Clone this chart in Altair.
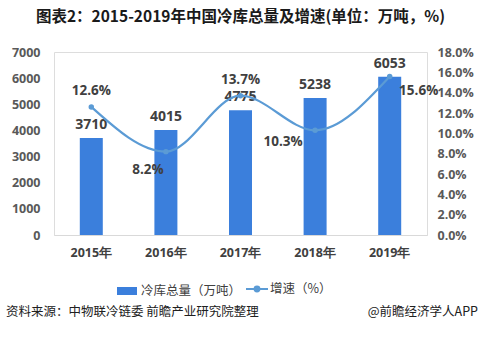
import altair as alt
import pandas as pd

years = ["2015年", "2016年", "2017年", "2018年", "2019年"]
volume = [3710, 4015, 4775, 5238, 6053]
growth = [0.126, 0.082, 0.137, 0.103, 0.156]
growth_labels = ["12.6%", "8.2%", "13.7%", "10.3%", "15.6%"]
label_dx = [0, -18, 0, -32, 29]
label_dy = [-16, 18, -16, 12, 15]

df = pd.DataFrame({"year": years, "volume": volume, "growth": growth,
                   "glabel": growth_labels,
                   "bar_name": "冷库总量（万吨）", "line_name": "增速（%）"})

CJK = "Noto Sans CJK SC"
NUM = "Open Sans"
BAR = "#3b7fdc"
LINE = "#5b9bd5"

x = alt.X("year:N", sort=years, title=None,
          scale=alt.Scale(paddingInner=0, paddingOuter=0),
          axis=alt.Axis(labelAngle=0, labelFont=NUM, labelFontSize=12.5,
                        labelFontWeight="bold", labelColor="#404040",
                        domainColor="#d9d9d9", ticks=False, labelPadding=11))

yl = alt.Y("volume:Q", title=None,
           scale=alt.Scale(domain=[0, 7000]),
           axis=alt.Axis(values=list(range(0, 7001, 1000)), format="d", grid=False,
                         domain=False, ticks=False, labelPadding=14,
                         labelFont=NUM, labelFontSize=12.5, labelFontWeight="bold",
                         labelColor="#595959"))

yr = alt.Y("growth:Q", title=None, scale=alt.Scale(domain=[0, 0.18]),
           axis=alt.Axis(orient="right", values=[i / 100 for i in range(0, 19, 2)],
                         format=".1%", grid=False, domain=False, ticks=False,
                         labelPadding=10, labelFont=NUM, labelFontSize=12.5,
                         labelFontWeight="bold", labelColor="#595959"))

base_l = alt.Chart(df).encode(x=x, y=yl)
base_r = alt.Chart(df).encode(x=x, y=yr)

bars = base_l.mark_bar(width=23, fill=BAR, strokeWidth=0).encode(
    stroke=alt.Stroke("bar_name:N", title=None,
                      scale=alt.Scale(domain=["冷库总量（万吨）"], range=[BAR]),
                      legend=alt.Legend(orient="none", legendX=59, legendY=225,
                                        symbolType="M-1,0H1",
                                        symbolSize=400, symbolStrokeWidth=8,
                                        symbolStrokeColor=BAR,
                                        labelFont=CJK, labelFontSize=12.5, labelColor="#404040",
                                        padding=0, labelOffset=0)),
)

bar_text = base_l.mark_text(dy=-13, font=NUM, fontSize=14, fontWeight="bold",
                            color="#404040", baseline="middle").encode(
    text=alt.Text("volume:Q"),
)

left = alt.layer(bars, bar_text)

line = base_r.mark_line(interpolate="monotone", strokeWidth=2.2).encode(
    stroke=alt.Stroke("line_name:N", title=None,
                      scale=alt.Scale(domain=["增速（%）"], range=[LINE]),
                      legend=alt.Legend(orient="none", legendX=191, legendY=225,
                                        symbolType="M-1,0H1M-0.22,0A0.22,0.22 0 1,0 0.22,0A0.22,0.22 0 1,0 -0.22,0",
                                        symbolSize=484, symbolStrokeWidth=2,
                                        symbolFillColor=LINE,
                                        labelFont=CJK, labelFontSize=12.5, labelColor="#404040",
                                        padding=0, labelOffset=1)),
)
points = base_r.mark_circle(size=30, color=LINE, opacity=1)

g_texts = []
for i, yname in enumerate(years):
    g_texts.append(
        base_r.transform_filter(alt.datum.year == yname).mark_text(
            dx=label_dx[i], dy=label_dy[i], font=NUM, fontSize=13.5,
            fontWeight="bold", color="#404040", baseline="middle").encode(
            text="glabel:N"))

right = alt.layer(line, points, *g_texts)

src = alt.Chart(pd.DataFrame({"t": ["资料来源：中物联冷链委 前瞻产业研究院整理"]})).mark_text(
    align="left", baseline="middle", font=CJK, fontSize=12.5, color="#202020").encode(
    x=alt.value(-48), y=alt.value(260), text="t:N")
app = alt.Chart(pd.DataFrame({"t": ["@前瞻经济学人APP"]})).mark_text(
    align="right", baseline="middle", font=CJK, fontSize=12.5, color="#202020").encode(
    x=alt.value(424), y=alt.value(260), text="t:N")

chart = alt.layer(left, right, src, app).resolve_scale(
    y="independent", stroke="independent"
).properties(
    width=373, height=183,
    padding={"left": 54, "top": 52, "right": 55, "bottom": 103},
    autosize=alt.AutoSizeParams(type="none"),
    title=alt.TitleParams("图表2：2015-2019年中国冷库总量及增速(单位：万吨，%)",
                          font=CJK, fontSize=15.5, fontWeight="bold", color="#1a1a1a",
                          anchor="middle", offset=14, baseline="middle"),
).configure_view(stroke=None).configure(background="white")

chart.save("out.html", embed_options={"renderer": "svg", "actions": False})
